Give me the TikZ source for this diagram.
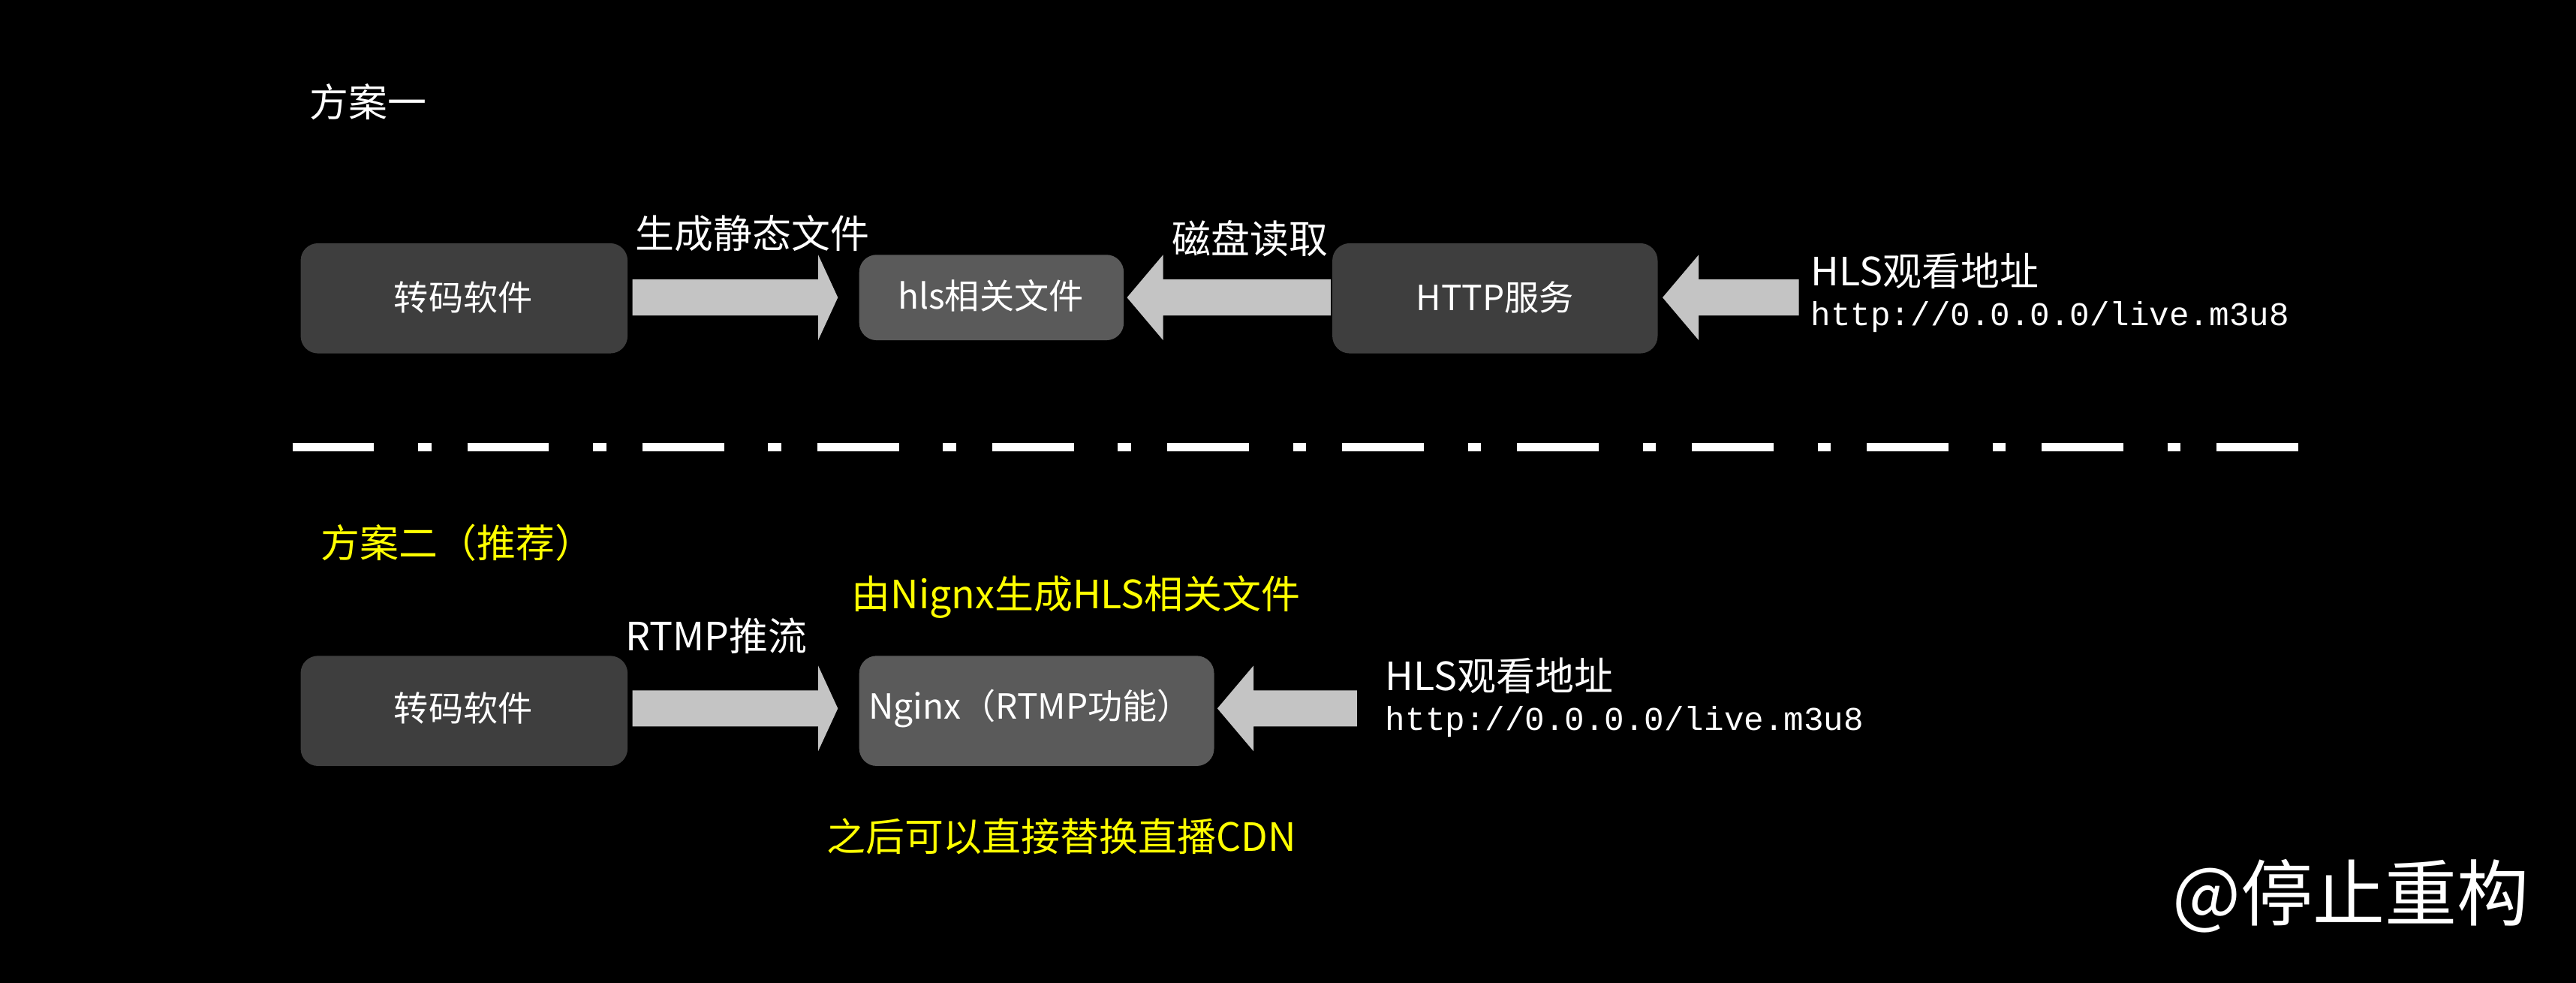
\documentclass[tikz,border=0pt]{standalone}
\usepackage{fontspec}
\setmainfont{Noto Sans CJK SC}
\newfontfamily\monof{Liberation Mono}
\usetikzlibrary{positioning}
\definecolor{boxdark}{HTML}{3E3E3E}
\definecolor{boxlight}{HTML}{5A5A5A}
\definecolor{arrowgray}{HTML}{C4C4C4}
\definecolor{hiyellow}{HTML}{FFFF00}
\tikzset{
  box/.style={fill=boxdark, rounded corners=6pt, text=white, font=\fontsize{12}{14}\selectfont},
  lbox/.style={box, fill=boxlight},
  lab/.style={text=white, font=\fontsize{13.5}{16}\selectfont, inner sep=0pt},
  ylab/.style={lab, text=hiyellow},
  url/.style={lab, font=\monof\fontsize{11.5}{14}\selectfont},
  blockarrow/.style={fill=arrowgray},
}
% rechts zeigender blockpfeil: #1 start x, #2 end x, #3 mitte y
\newcommand{\rarrow}[3]{\fill[blockarrow] (#1,#3-11) -- (#2-12,#3-11) -- (#2-12,#3-26) -- (#2,#3) -- (#2-12,#3+26) -- (#2-12,#3+11) -- (#1,#3+11) -- cycle;}
\newcommand{\larrow}[3]{\fill[blockarrow] (#1,#3-11) -- (#2+22,#3-11) -- (#2+22,#3-26) -- (#2,#3) -- (#2+22,#3+26) -- (#2+22,#3+11) -- (#1,#3+11) -- cycle;}
\begin{document}
\begin{tikzpicture}[x=0.02cm, y=-0.02cm]
	\fill[black] (0,0) rectangle (1568,598);
	\useasboundingbox (0,0) rectangle (1568,598);
	% erster plan
	\node[lab, anchor=west] (planA) at (188,62) {方案一};
	\fill[boxdark, rounded corners=6pt] (183,148) rectangle (382,215);
	\node[lab, font=\fontsize{12}{14}\selectfont] (encA) at (282,181) {转码软件};
	\fill[boxlight, rounded corners=6pt] (523,155) rectangle (684,207);
	\node[lab, font=\fontsize{12}{14}\selectfont] (hls) at (603,180) {hls相关文件};
	\fill[boxdark, rounded corners=6pt] (811,148) rectangle (1009,215);
	\node[lab, font=\fontsize{12}{14}\selectfont] (http) at (910,181) {HTTP服务};
	\rarrow{385}{510}{181}
	\larrow{810}{686}{181}
	\larrow{1095}{1012}{181}
	\node[lab] (genlab) at (458,142) {生成静态文件};
	\node[lab] (disklab) at (761,145) {磁盘读取};
	\node[lab, anchor=west] (watchA) at (1102,165) {HLS观看地址};
	\node[url, anchor=west] (urlA) at (1102,193) {http://0.0.0.0/live.m3u8};
	% trennlinie
	\draw[white, line width=2.8pt, dash pattern=on 28.3pt off 15.3pt on 4.5pt off 12.5pt] (178,272) -- (1403,272);
	% zweiter plan
	\node[ylab, anchor=west] (planB) at (195,330) {方案二（推荐）};
	\fill[boxdark, rounded corners=6pt] (183,399) rectangle (382,466);
	\node[lab, font=\fontsize{12}{14}\selectfont] (encB) at (282,431) {转码软件};
	\fill[boxlight, rounded corners=6pt] (523,399) rectangle (739,466);
	\node[lab, font=\fontsize{12}{14}\selectfont] (nginx) at (627,431) {Nginx（RTMP功能）};
	\rarrow{385}{510}{431}
	\larrow{826}{741}{431}
	\node[ylab] (nglab) at (655,363) {由Nignx生成HLS相关文件};
	\node[lab] (rtmplab) at (436,387) {RTMP推流};
	\node[lab, anchor=west] (watchB) at (843,411) {HLS观看地址};
	\node[url, anchor=west] (urlB) at (843,439) {http://0.0.0.0/live.m3u8};
	\node[ylab] (cdn) at (646,509) {之后可以直接替换直播CDN};
	% wasserzeichen
	\node[lab, anchor=east, font=\fontsize{25}{28}\selectfont] (mark) at (1540,545) {@停止重构};
\end{tikzpicture}
\end{document}
